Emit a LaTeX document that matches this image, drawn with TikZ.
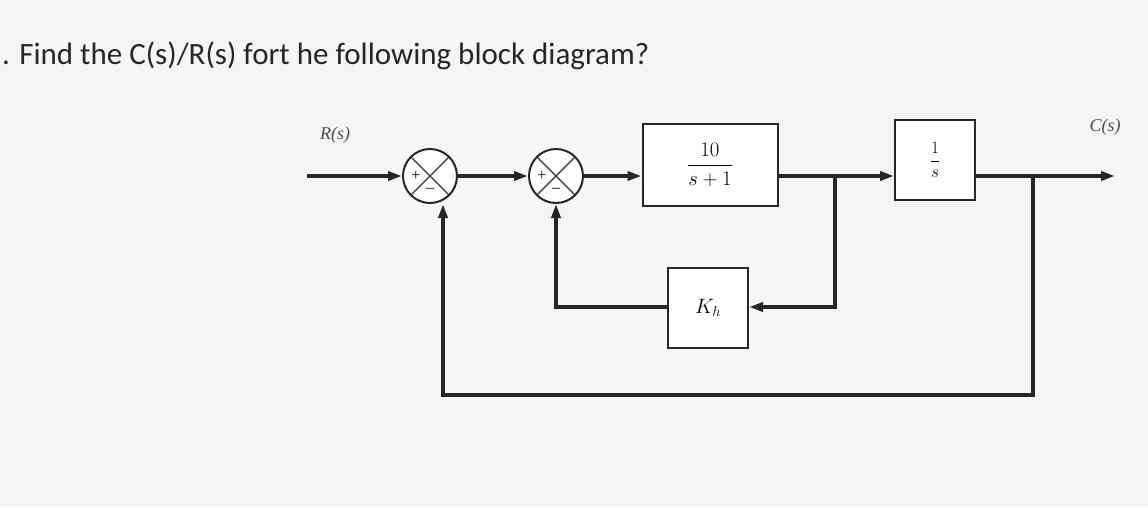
\documentclass[tikz,border=0pt]{standalone}
\usepackage{amsmath}
\usepackage{fontspec}
\setmainfont{Liberation Serif}
\newfontfamily\titlefont{Carlito}
\usetikzlibrary{arrows.meta}
\begin{document}
\begin{tikzpicture}[x=1pt,y=-1pt,
  sig/.style={line width=3.6pt,draw=black!85},
  arr/.style={sig,-{Triangle[length=14pt,width=9pt]}},
  blk/.style={draw=black!85,line width=2pt,fill=white,inner sep=0pt},
  sumj/.style={draw=black!85,line width=2pt,circle,minimum size=54pt,inner sep=0pt,fill=white}]
\fill[black!4] (0,0) rectangle (1148,507);
\useasboundingbox (0,0) rectangle (1148,507);
\node[anchor=base west,inner sep=0pt,font=\titlefont\fontsize{31}{34}\selectfont,text=black!85] (title) at (2,64) {. Find the C(s)/R(s) fort he following block diagram?};
\node[font=\fontsize{18}{18}\selectfont\itshape,text=black!70] (rl) at (335,135) {R(s)};
\node[font=\fontsize{18}{18}\selectfont\itshape,text=black!70] (cl) at (1105,127) {C(s)};
\coordinate (in) at (307,176);
\node[sumj] (s1) at (430,176) {};
\node[sumj] (s2) at (556,176) {};
\foreach \s in {s1,s2}{
 \draw[line width=1.2pt,black!80] (\s.north west)--(\s.south east) (\s.north east)--(\s.south west);
 \node[font=\fontsize{16}{16}\selectfont] at ([xshift=-14pt]\s.center) {+};
 \node[font=\fontsize{16}{16}\selectfont] at ([yshift=-14pt]\s.center) {--};}
\node[blk,minimum width=135pt,minimum height=82pt] (g1) at (710,165) {\fontsize{20}{24}\selectfont$\dfrac{10}{s+1}$};
\node[blk,minimum width=80pt,minimum height=80pt] (g2) at (935,160) {\fontsize{17}{20}\selectfont$\dfrac{1}{s}$};
\node[blk,minimum width=80pt,minimum height=80pt] (kh) at (708,308) {\fontsize{20}{22}\selectfont$K_h$};
\coordinate (b1) at (835,176);
\coordinate (b2) at (1033,176);
\coordinate (out) at (1115,176);
\draw[arr] (in)--(s1.west);
\draw[arr] (s1.east)--(s2.west);
\draw[arr] (s2.east)--(g1.west|-s2.east);
\draw[arr] (g1.east|-b1)--(g2.west|-b1);
\draw[arr] (g2.east|-b2)--(out);
\draw[arr] (b1)--(835,307)--(kh.east|-0,307);
\draw[arr] (kh.west|-0,307)--(556,307)--(s2.south);
\draw[arr] (b2)--(1033,395)--(443,395)--(443,0|-s1.south);
\end{tikzpicture}
\end{document}
